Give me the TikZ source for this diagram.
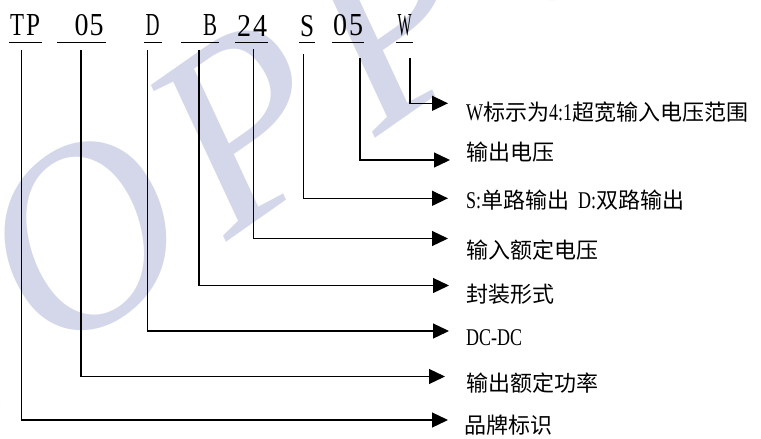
\documentclass[tikz,border=0pt]{standalone}
\usepackage{fontspec}
\usepackage{graphicx}
\usetikzlibrary{arrows.meta}
\newfontfamily\cjkf{Noto Sans CJK SC}
\newfontfamily\narrowf[FakeStretch=0.75]{Liberation Serif}
\newfontfamily\topf{Liberation Serif}
\newcommand\mylat[1]{{\fontsize{24}{26}\narrowf #1}}
\newcommand\myhan[1]{{\fontsize{22}{26}\cjkf #1}}
\newcommand\cc[1]{\resizebox{14pt}{21pt}{\topf #1}}
\definecolor{wm}{RGB}{212,214,234}
\begin{document}
\begin{tikzpicture}[x=1pt,y=-1pt,
  ln/.style={line width=1.3pt,black},
  ul/.style={line width=1.3pt,black},
  arr/.style={ln,-{Triangle[length=16pt,width=15pt]}},
  lab/.style={anchor=base west,inner sep=0pt},
  code/.style={anchor=base,inner sep=0pt},
  wmark/.style={anchor=center,inner sep=0pt,rotate=35,text=wm,font=\fontsize{262}{262}\topf\itshape}]
\useasboundingbox (0,0) rectangle (761,439);
% watermark
\begin{scope}
\clip (0,0) rectangle (761,439);
\node[wmark] (w1) at (-72,347) {T};
\node[wmark] (w2) at (83,238) {O};
\node[wmark] (w3) at (244,125) {P};
\node[wmark] (w4) at (393,21) {P};
\node[wmark] (w5) at (554,-92) {O};
\end{scope}
% code characters
\node[code] (c1) at (17,36) {\cc{T}};
\node[code] (c2) at (33,36) {\cc{P}};
\node[code] (c3) at (81.5,36) {\cc{0}};
\node[code] (c4) at (96.5,36) {\cc{5}};
\node[code] (c5) at (152.5,36) {\cc{D}};
\node[code] (c6) at (210,36) {\cc{B}};
\node[code] (c7) at (244,36) {\cc{2}};
\node[code] (c8) at (260,36) {\cc{4}};
\node[code] (c9) at (307,36) {\cc{S}};
\node[code] (c10) at (340,36) {\cc{0}};
\node[code] (c11) at (356,36) {\cc{5}};
\node[code] (c12) at (404.5,36) {\cc{W}};
% underlines
\draw[ul] (9.3,42.7) -- (41.7,42.7);
\draw[ul] (57.3,42.7) -- (106,42.7);
\draw[ul] (144,42.7) -- (162,42.7);
\draw[ul] (181,42.7) -- (219,42.7);
\draw[ul] (235,42.7) -- (268,42.7);
\draw[ul] (299,42.7) -- (315,42.7);
\draw[ul] (332,42.7) -- (364,42.7);
\draw[ul] (396,42.7) -- (413,42.7);
% connector start points
\coordinate (sTP) at (21.3,50);
\coordinate (sPW) at (81,50);
\coordinate (sD) at (147.7,50);
\coordinate (sB) at (199,50);
\coordinate (sVin) at (253.3,49);
\coordinate (sS) at (303.3,54);
\coordinate (sVo) at (360,58);
\coordinate (sW) at (410,58);
% arrow end points
\coordinate (eW) at (448,103.3);
\coordinate (eVo) at (450,160);
\coordinate (eS) at (448,198.3);
\coordinate (eVin) at (448,238.5);
\coordinate (eB) at (449,285.5);
\coordinate (eD) at (449,331);
\coordinate (ePW) at (445,376.5);
\coordinate (eTP) at (448,420);
% connectors
\draw[arr] (sW) |- (eW);
\draw[arr] (sVo) |- (eVo);
\draw[arr] (sS) |- (eS);
\draw[arr] (sVin) |- (eVin);
\draw[arr] (sB) |- (eB);
\draw[arr] (sD) |- (eD);
\draw[arr] (sPW) |- (ePW);
\draw[arr] (sTP) |- (eTP);
% labels
\node[lab] (l1) at (466,120) {\mylat{W}\myhan{标示为}\mylat{4:1}\myhan{超宽输入电压范围}};
\node[lab] (l2) at (466,160.5) {\myhan{输出电压}};
\node[lab] (l3) at (466,208) {\mylat{S:}\myhan{单路输出}\hspace{9pt}\mylat{D:}\myhan{双路输出}};
\node[lab] (l4) at (466,258.5) {\myhan{输入额定电压}};
\node[lab] (l5) at (466,302.5) {\myhan{封装形式}};
\node[lab] (l6) at (466,345) {\mylat{DC-DC}};
\node[lab] (l7) at (466,391.5) {\myhan{输出额定功率}};
\node[lab] (l8) at (464,433.5) {\myhan{品牌标识}};
\end{tikzpicture}
\end{document}
